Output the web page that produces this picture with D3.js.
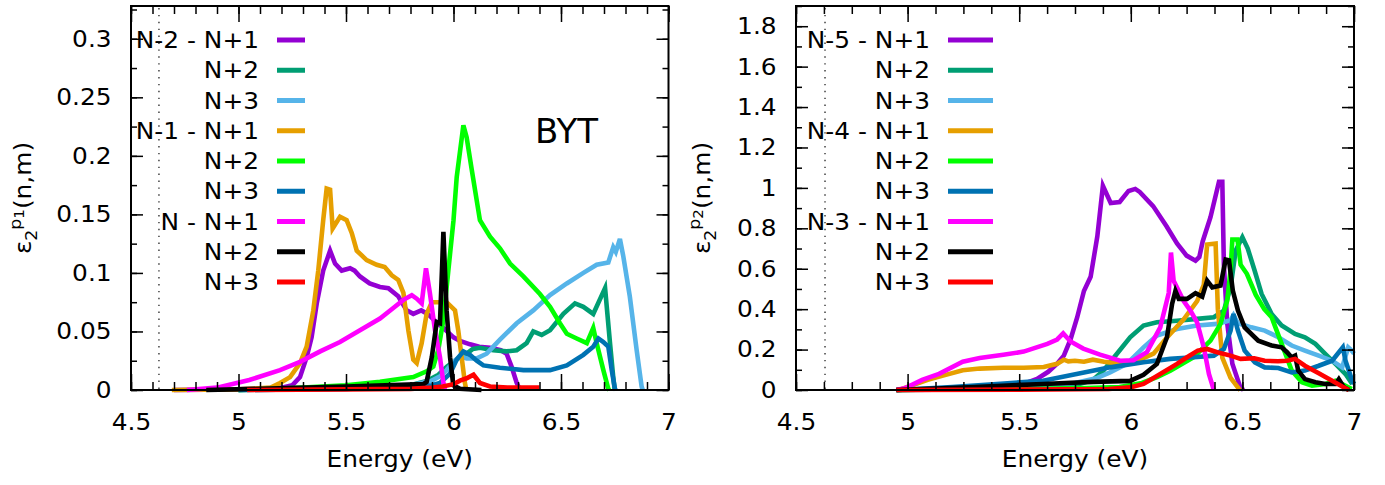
<!DOCTYPE html>
<html><head><meta charset="utf-8">
<script src="https://cdn.jsdelivr.net/npm/d3@7"></script>
<style>
body{margin:0;background:#fff}
text{font-family:"DejaVu Sans",sans-serif;fill:#000}
</style></head>
<body><svg id="c" width="1385" height="485"></svg>
<script>
// ---------- data ----------
const xTicks = [4.5,5,5.5,6,6.5,7];
const xTickLabels = ["4.5","5","5.5","6","6.5","7"];
const yTicksL = [0,0.05,0.1,0.15,0.2,0.25,0.3];
const yTickLabelsL = ["0","0.05","0.1","0.15","0.2","0.25","0.3"];
const yTicksR = [0,0.2,0.4,0.6,0.8,1,1.2,1.4,1.6,1.8];
const yTickLabelsR = ["0","0.2","0.4","0.6","0.8","1","1.2","1.4","1.6","1.8"];
const legendL = ["N-2 - N+1","N+2","N+3","N-1 - N+1","N+2","N+3","N - N+1","N+2","N+3"];
const legendR = ["N-5 - N+1","N+2","N+3","N-4 - N+1","N+2","N+3","N-3 - N+1","N+2","N+3"];
const colors = ["#9400D3","#009E73","#56B4E9","#E69F00","#00FF00","#0072B2","#FF00FF","#000000","#FF0000"];

// left panel (eps2 p1)
const L_N2_N1 = [[4.70,0],[5.0,0.0005],[5.2,0.002],[5.25,0.004],[5.286,0.011],[5.317,0.028],[5.34,0.045],[5.364,0.074],[5.394,0.102],[5.426,0.119],[5.449,0.108],[5.48,0.102],[5.519,0.104],[5.54,0.102],[5.565,0.097],[5.61,0.091],[5.658,0.088],[5.697,0.087],[5.743,0.080],[5.782,0.068],[5.813,0.065],[5.85,0.068],[5.88,0.065],[5.92,0.058],[5.953,0.053],[6.0,0.045],[6.03,0.042],[6.077,0.039],[6.12,0.037],[6.17,0.036],[6.22,0.034],[6.247,0.031],[6.27,0.02],[6.294,0.006],[6.31,0]];
const L_N2_N2 = [[5.0,0],[5.4,0.001],[5.6,0.002],[5.8,0.004],[5.88,0.008],[5.93,0.013],[5.97,0.02],[6.0,0.024],[6.03,0.028],[6.061,0.031],[6.09,0.035],[6.123,0.036],[6.185,0.034],[6.247,0.033],[6.294,0.034],[6.34,0.040],[6.371,0.050],[6.41,0.047],[6.449,0.051],[6.511,0.065],[6.565,0.074],[6.604,0.071],[6.65,0.065],[6.705,0.087],[6.728,0.040],[6.743,0.011],[6.75,0]];
const L_N2_N3 = [[5.0,0],[5.5,0.001],[5.8,0.004],[5.9,0.008],[5.94,0.012],[5.968,0.017],[6.0,0.024],[6.03,0.029],[6.061,0.027],[6.108,0.027],[6.154,0.031],[6.216,0.043],[6.294,0.057],[6.371,0.068],[6.449,0.081],[6.527,0.091],[6.604,0.1],[6.666,0.107],[6.72,0.109],[6.743,0.122],[6.755,0.118],[6.774,0.129],[6.79,0.114],[6.82,0.08],[6.852,0.034],[6.875,0.003],[6.88,0]];
const L_N1_N1 = [[4.69,0],[5.0,0.0005],[5.15,0.002],[5.193,0.006],[5.24,0.011],[5.286,0.023],[5.317,0.037],[5.348,0.068],[5.371,0.102],[5.394,0.145],[5.41,0.172],[5.426,0.171],[5.438,0.138],[5.472,0.148],[5.503,0.145],[5.527,0.134],[5.55,0.119],[5.596,0.111],[5.643,0.107],[5.68,0.105],[5.713,0.098],[5.743,0.094],[5.767,0.083],[5.79,0.051],[5.813,0.026],[5.829,0.023],[5.852,0.040],[5.875,0.065],[5.899,0.075],[5.968,0.075],[6.007,0.068],[6.022,0.051],[6.038,0.028],[6.053,0.006],[6.06,0]];
const L_N1_N2 = [[5.0,0],[5.3,0.002],[5.5,0.004],[5.658,0.007],[5.813,0.011],[5.875,0.016],[5.906,0.02],[5.93,0.035],[5.953,0.06],[5.976,0.102],[6.0,0.145],[6.015,0.182],[6.046,0.226],[6.061,0.216],[6.085,0.188],[6.123,0.145],[6.17,0.131],[6.216,0.121],[6.263,0.108],[6.325,0.097],[6.402,0.082],[6.449,0.071],[6.495,0.057],[6.527,0.048],[6.573,0.044],[6.62,0.040],[6.65,0.053],[6.666,0.040],[6.697,0.017],[6.72,0.001],[6.725,0]];
const L_N1_N3 = [[5.0,0],[5.5,0.001],[5.8,0.003],[5.9,0.004],[5.937,0.006],[5.984,0.014],[6.015,0.026],[6.046,0.033],[6.077,0.030],[6.108,0.025],[6.139,0.021],[6.216,0.019],[6.325,0.017],[6.449,0.017],[6.527,0.021],[6.604,0.030],[6.65,0.037],[6.674,0.044],[6.697,0.041],[6.72,0.037],[6.736,0.017],[6.751,0.001],[6.755,0]];
const L_N0_N1 = [[4.76,0],[4.9,0.002],[5.05,0.0085],[5.193,0.017],[5.286,0.024],[5.38,0.033],[5.472,0.041],[5.565,0.051],[5.658,0.061],[5.72,0.070],[5.767,0.077],[5.806,0.081],[5.829,0.078],[5.852,0.074],[5.872,0.104],[5.89,0.083],[5.914,0.051],[5.937,0.028],[5.953,0.006],[5.96,0]];
const L_N0_N2 = [[4.85,0],[5.1,0.001],[5.5,0.003],[5.86,0.005],[5.875,0.007],[5.899,0.028],[5.922,0.058],[5.937,0.057],[5.953,0.135],[5.968,0.068],[5.984,0.028],[5.999,0.004],[6.03,0.001],[6.13,0]];
const L_N0_N3 = [[5.04,0],[5.5,0.0005],[5.8,0.001],[5.9,0.002],[5.95,0.003],[6.0,0.005],[6.03,0.008],[6.061,0.010],[6.093,0.013],[6.123,0.006],[6.17,0.003],[6.25,0.002],[6.4,0.002]];

// right panel (eps2 p2)
const R_N5_N1 = [[4.95,0],[5.3,0.003],[5.45,0.01],[5.52,0.03],[5.58,0.055],[5.63,0.09],[5.67,0.13],[5.7,0.17],[5.73,0.25],[5.76,0.36],[5.79,0.49],[5.82,0.56],[5.85,0.76],[5.875,1.01],[5.91,0.925],[5.95,0.93],[5.99,0.985],[6.02,0.995],[6.04,0.98],[6.1,0.91],[6.16,0.81],[6.207,0.725],[6.25,0.665],[6.29,0.64],[6.307,0.658],[6.322,0.735],[6.357,0.855],[6.395,1.03],[6.41,1.03],[6.417,0.62],[6.432,0.33],[6.455,0.13],[6.49,0.015],[6.505,0]];
const R_N5_N2 = [[4.95,0],[5.5,0.008],[5.7,0.02],[5.77,0.03],[5.83,0.05],[5.877,0.096],[5.937,0.178],[5.997,0.261],[6.057,0.319],[6.117,0.335],[6.207,0.343],[6.297,0.352],[6.372,0.36],[6.417,0.393],[6.447,0.508],[6.47,0.69],[6.5,0.756],[6.524,0.70],[6.555,0.59],[6.586,0.475],[6.631,0.376],[6.676,0.319],[6.736,0.277],[6.78,0.261],[6.827,0.228],[6.872,0.178],[6.917,0.129],[6.962,0.079],[6.992,0.03]];
const R_N5_N3 = [[4.95,0],[5.5,0.01],[5.75,0.035],[5.85,0.06],[5.907,0.087],[5.982,0.129],[6.057,0.211],[6.117,0.269],[6.207,0.302],[6.297,0.319],[6.387,0.327],[6.447,0.345],[6.46,0.37],[6.48,0.33],[6.54,0.31],[6.6,0.294],[6.661,0.261],[6.721,0.22],[6.78,0.195],[6.842,0.17],[6.902,0.145],[6.947,0.112],[6.974,0.211],[6.99,0.195],[7.0,0.18]];
const R_N4_N1 = [[4.95,0],[4.974,0.005],[5.09,0.05],[5.171,0.075],[5.247,0.098],[5.323,0.106],[5.429,0.11],[5.52,0.11],[5.61,0.114],[5.67,0.13],[5.7,0.15],[5.72,0.142],[5.75,0.145],[5.79,0.14],[5.83,0.15],[5.88,0.14],[5.95,0.13],[6.02,0.14],[6.102,0.18],[6.162,0.26],[6.237,0.35],[6.297,0.44],[6.327,0.52],[6.342,0.72],[6.38,0.725],[6.39,0.40],[6.41,0.16],[6.447,0.06],[6.485,0.005],[6.49,0]];
const R_N4_N2 = [[4.95,0],[5.5,0.005],[5.8,0.01],[5.95,0.015],[6.05,0.035],[6.12,0.065],[6.177,0.096],[6.282,0.162],[6.357,0.244],[6.402,0.327],[6.432,0.442],[6.447,0.591],[6.455,0.745],[6.478,0.745],[6.492,0.62],[6.52,0.575],[6.56,0.47],[6.598,0.40],[6.631,0.36],[6.676,0.228],[6.721,0.096],[6.767,0.038],[6.812,0.021],[6.872,0.03],[6.917,0.046],[6.962,0.021],[6.99,0.005]];
const R_N4_N3 = [[4.95,0],[5.2,0.015],[5.4,0.03],[5.607,0.046],[5.757,0.079],[5.907,0.112],[6.057,0.137],[6.177,0.154],[6.282,0.162],[6.372,0.17],[6.417,0.203],[6.447,0.294],[6.46,0.376],[6.48,0.294],[6.51,0.195],[6.556,0.137],[6.6,0.112],[6.661,0.109],[6.721,0.087],[6.78,0.096],[6.842,0.12],[6.902,0.145],[6.95,0.211],[6.962,0.145],[6.992,0.046],[7.0,0.03]];
const R_N3_N1 = [[4.95,0],[4.99,0.01],[5.065,0.05],[5.141,0.08],[5.247,0.14],[5.323,0.158],[5.429,0.174],[5.52,0.19],[5.626,0.228],[5.67,0.25],[5.697,0.28],[5.73,0.24],[5.787,0.205],[5.862,0.175],[5.952,0.145],[6.012,0.147],[6.072,0.187],[6.132,0.31],[6.17,0.48],[6.18,0.68],[6.192,0.54],[6.237,0.44],[6.267,0.393],[6.297,0.335],[6.327,0.211],[6.35,0.079],[6.372,0]];
const R_N3_N2 = [[4.95,0],[5.3,0.015],[5.607,0.03],[5.832,0.04],[5.997,0.045],[6.057,0.075],[6.117,0.129],[6.162,0.261],[6.185,0.426],[6.2,0.49],[6.215,0.451],[6.252,0.451],[6.29,0.479],[6.32,0.462],[6.342,0.541],[6.365,0.508],[6.402,0.517],[6.425,0.645],[6.44,0.641],[6.457,0.492],[6.48,0.393],[6.51,0.31],[6.571,0.244],[6.631,0.22],[6.676,0.211],[6.7,0.187],[6.72,0.162],[6.736,0.17],[6.75,0.096],[6.78,0.054],[6.827,0.038],[6.872,0.03],[6.917,0.03],[6.932,0.054],[6.955,0.013],[6.977,0]];
const R_N3_N3 = [[4.95,0],[5.5,0.002],[5.9,0.005],[5.997,0.013],[6.057,0.03],[6.132,0.079],[6.207,0.129],[6.252,0.162],[6.3,0.195],[6.342,0.203],[6.387,0.187],[6.447,0.17],[6.492,0.154],[6.553,0.157],[6.6,0.145],[6.66,0.142],[6.7,0.145],[6.736,0.154],[6.78,0.12],[6.842,0.083],[6.902,0.046],[6.947,0.017],[6.977,0]];

const seriesL = [L_N2_N1,L_N2_N2,L_N2_N3,L_N1_N1,L_N1_N2,L_N1_N3,L_N0_N1,L_N0_N2,L_N0_N3];
const seriesR = [R_N5_N1,R_N5_N2,R_N5_N3,R_N4_N1,R_N4_N2,R_N4_N3,R_N3_N1,R_N3_N2,R_N3_N3];

// ---------- drawing ----------
const svg = d3.select("#c");
const SX = 1.08; // horizontal glyph stretch
const FS = 23;

function panel(cfg){
  const top = 6, bottom = 390;
  const x = d3.scaleLinear().domain([4.5,7]).range([cfg.x0, cfg.x1]);
  const y = d3.scaleLinear().domain([0, cfg.ymax]).range([bottom, top]);
  const g = svg.append("g");

  // dotted vertical line
  g.append("line").attr("x1",x(4.63)).attr("x2",x(4.63)).attr("y1",top+2).attr("y2",bottom)
    .attr("stroke","#333").attr("stroke-width",1.4).attr("stroke-dasharray","1.4,5.5");

  const line = d3.line().x(d=>x(d[0])).y(d=>y(d[1]));
  cfg.series.forEach((s,i)=>{
    g.append("path").attr("d",line(s)).attr("fill","none")
      .attr("stroke",colors[i]).attr("stroke-width",4.6).attr("stroke-linejoin","miter");
  });

  const styleTicks = sel => { sel.select(".domain").remove(); sel.selectAll("line").attr("stroke","#000").attr("stroke-width",1.5); };

  // minor ticks
  g.append("g").attr("transform",`translate(0,${bottom})`).call(d3.axisBottom(x).tickValues(cfg.xMinor).tickSize(-8).tickFormat("")).call(styleTicks);
  g.append("g").attr("transform",`translate(0,${top})`).call(d3.axisTop(x).tickValues(cfg.xMinor).tickSize(-8).tickFormat("")).call(styleTicks);
  g.append("g").attr("transform",`translate(${cfg.x0},0)`).call(d3.axisLeft(y).tickValues(cfg.yMinor).tickSize(-6).tickFormat("")).call(styleTicks);
  g.append("g").attr("transform",`translate(${cfg.x1},0)`).call(d3.axisRight(y).tickValues(cfg.yMinor).tickSize(-6).tickFormat("")).call(styleTicks);

  // major ticks + labels
  const xb = g.append("g").attr("transform",`translate(0,${bottom})`)
    .call(d3.axisBottom(x).tickValues(xTicks).tickSize(-16).tickPadding(24).tickFormat((d,i)=>xTickLabels[i])).call(styleTicks);
  g.append("g").attr("transform",`translate(0,${top})`).call(d3.axisTop(x).tickValues(xTicks).tickSize(-16).tickFormat("")).call(styleTicks);
  const yl = g.append("g").attr("transform",`translate(${cfg.x0},0)`)
    .call(d3.axisLeft(y).tickValues(cfg.yTicks).tickSize(-12).tickPadding(18).tickFormat((d,i)=>cfg.yLabels[i])).call(styleTicks);
  g.append("g").attr("transform",`translate(${cfg.x1},0)`).call(d3.axisRight(y).tickValues(cfg.yTicks).tickSize(-12).tickFormat("")).call(styleTicks);
  [xb,yl].forEach(a=>a.selectAll("text").attr("font-size",FS).attr("font-family","DejaVu Sans").attr("fill","#000").attr("transform",`scale(${SX},1)`));

  // border
  g.append("rect").attr("x",cfg.x0).attr("y",top).attr("width",cfg.x1-cfg.x0).attr("height",bottom-top)
    .attr("fill","none").attr("stroke","#000").attr("stroke-width",2);

  // x label
  g.append("text").attr("transform",`translate(${(cfg.x0+cfg.x1)/2},467) scale(${SX},1)`).attr("text-anchor","middle")
    .attr("font-size",FS).text("Energy (eV)");

  // y label
  const yt = g.append("text").attr("transform",`translate(${cfg.ylabX},198) rotate(-90) scale(${SX},1)`)
    .attr("text-anchor","middle").attr("font-size",FS);
  yt.append("tspan").text("ε");
  yt.append("tspan").attr("dy",6).attr("font-size",16).text("2");
  yt.append("tspan").attr("dy",-16).attr("font-size",16).text("p");
  yt.append("tspan").attr("dy",3).attr("font-size",14).text(cfg.pIdx);
  yt.append("tspan").attr("dy",7).text("(n,m)");

  // legend
  cfg.legend.forEach((t,i)=>{
    const ry = 40 + i*30.25;
    g.append("text").attr("transform",`translate(${cfg.legTextX},${ry+8}) scale(${SX},1)`).attr("text-anchor","end")
      .attr("font-size",FS).text(t);
    g.append("line").attr("x1",cfg.legL0).attr("x2",cfg.legL1).attr("y1",ry).attr("y2",ry)
      .attr("stroke",colors[i]).attr("stroke-width",5);
  });
  return {g,x,y};
}

const pL = panel({x0:131,x1:668.5,ymax:0.328,series:seriesL,
  xMinor:d3.range(0,26).map(i=>4.5+i*0.1),yMinor:d3.range(0,14).map(i=>i*0.025),
  yTicks:yTicksL,yLabels:yTickLabelsL,legend:legendL,legTextX:259,legL0:277,legL1:305,ylabX:31,pIdx:"1"});
const pR = panel({x0:796,x1:1354,ymax:1.9,series:seriesR,
  xMinor:d3.range(0,21).map(i=>4.5+i*0.125),yMinor:d3.range(0,20).map(i=>i*0.1),
  yTicks:yTicksR,yLabels:yTickLabelsR,legend:legendR,legTextX:930,legL0:948,legL1:993,ylabX:710,pIdx:"2"});

pL.g.append("text").attr("transform",`translate(535,143) scale(1.0,1)`).attr("font-size",34).text("BYT");
</script></body></html>
